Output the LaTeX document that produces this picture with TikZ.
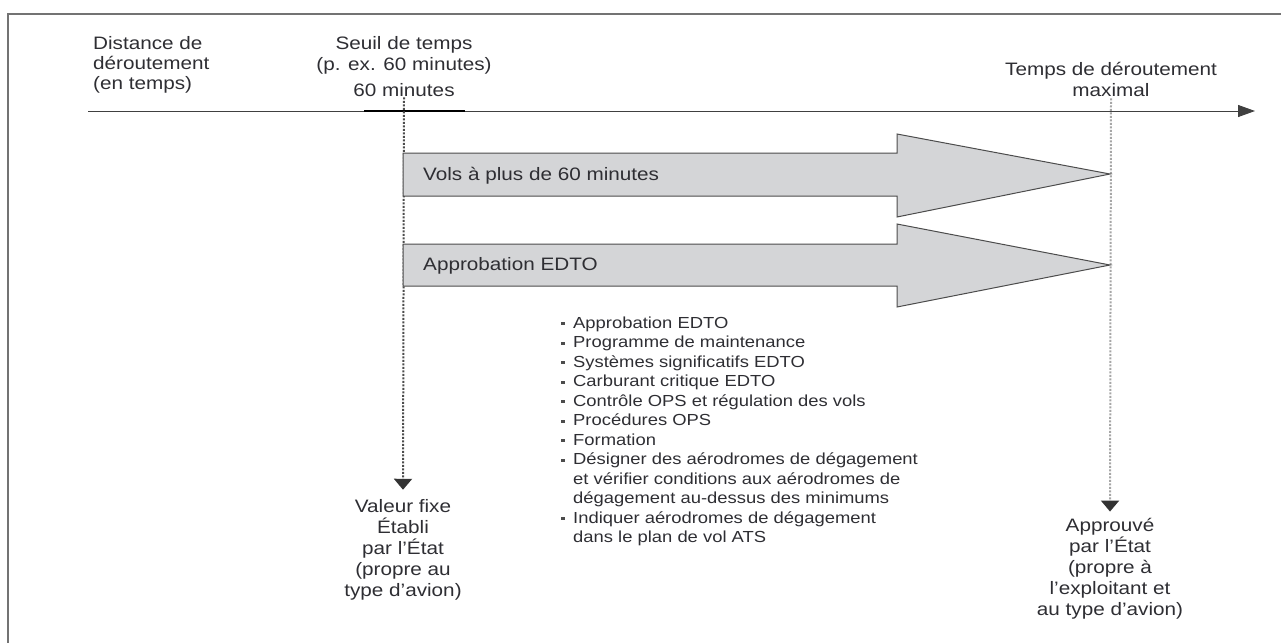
\documentclass[tikz,border=0pt]{standalone}
\usepackage{fontspec}
\setmainfont{Liberation Sans}[FakeStretch=1.15]
\usetikzlibrary{arrows.meta}
\definecolor{arrfill}{HTML}{D4D5D7}
\definecolor{txt}{HTML}{2E2E33}
\newcommand{\bul}{\makebox[12pt][l]{\textcolor{black!70}{\rule[3pt]{3.5pt}{3pt}}}}
\newcommand{\ind}{\hspace*{12pt}}
\begin{document}
\begin{tikzpicture}[x=1pt,y=-1pt,
  lbl/.style={font=\fontsize{18}{21}\selectfont, text=txt, inner sep=0pt, align=center},
  albl/.style={font=\fontsize{18}{21}\selectfont, text=txt, inner sep=0pt},
  lst/.style={font=\fontsize{16}{19.5}\selectfont, text=txt, inner sep=0pt, align=left},
  frame/.style={draw=black!55, line width=2pt},
  axis/.style={draw=black!75, line width=1pt, -{Triangle[length=17pt,width=12pt]}},
  blk/.style={draw=black!70, line width=1pt, fill=arrfill, line join=miter},
  dashl/.style={line width=2pt, dash pattern=on 2pt off 1.5pt, -{Triangle[length=11pt,width=18pt,color=black!80,fill=black!80]}}
]
\useasboundingbox (0,0) rectangle (1281,643);
% frame
\coordinate (fr1) at (1281,14);
\coordinate (fr2) at (8,14);
\coordinate (fr3) at (8,643);
\draw[frame] (fr1) -- (fr2) -- (fr3);
% axis
\coordinate (axs) at (88,111);
\coordinate (axe) at (1255,111);
\draw[axis] (axs) -- (axe);
\coordinate (tk1) at (364,111);
\coordinate (tk2) at (465,111);
\draw[black, line width=1.2pt] (tk1) -- (tk2);
% top labels (base anchor = baseline of last line)
\node[lbl, align=left, anchor=base west, font=\fontsize{18}{20}\selectfont] (dist) at (93,89) {Distance de\\déroutement\\(en temps)};
\node[lbl, anchor=base] (seuil) at (404,70) {Seuil de temps\\(p. ex. 60 minutes)};
\node[lbl, anchor=base] (sixty) at (404,96) {60 minutes};
\node[lbl, anchor=base] (temps) at (1111,96) {Temps de déroutement\\maximal};
% bottom labels
\node[lbl, anchor=base] (valeur) at (403,596) {Valeur fixe\\Établi\\par l'État\\(propre au\\type d'avion)};
\node[lbl, anchor=base] (approuve) at (1110,615) {Approuvé\\par l'État\\(propre à\\l'exploitant et\\au type d'avion)};
% dashed guides (yshift is in canvas pt: positive = up)
\draw[dashl, draw=black!70] ([yshift=-1pt]sixty.south) -- ([yshift=9pt]valeur.north);
\draw[dashl, draw=black!35] ([yshift=-2pt]temps.south) -- ([yshift=6pt]approuve.north);
% block arrows
\draw[blk] (403,153) -- (897,153) -- (897,134) -- (1110,174) -- (897,217) -- (897,196) -- (403,196) -- cycle;
\draw[blk] (403,244) -- (897,244) -- (897,224) -- (1110,265) -- (897,307) -- (897,286) -- (403,286) -- cycle;
\node[albl, anchor=base west] (vols) at (423,180) {Vols à plus de 60 minutes};
\node[albl, anchor=base west] (appr) at (423,270) {Approbation EDTO};
% list
\node[lst, anchor=base west] (list) at (561,542.5) {\bul Approbation EDTO\\
\bul Programme de maintenance\\
\bul Systèmes significatifs EDTO\\
\bul Carburant critique EDTO\\
\bul Contrôle OPS et régulation des vols\\
\bul Procédures OPS\\
\bul Formation\\
\bul Désigner des aérodromes de dégagement\\
\ind et vérifier conditions aux aérodromes de\\
\ind dégagement au-dessus des minimums\\
\bul Indiquer aérodromes de dégagement\\
\ind dans le plan de vol ATS};
\end{tikzpicture}
\end{document}
